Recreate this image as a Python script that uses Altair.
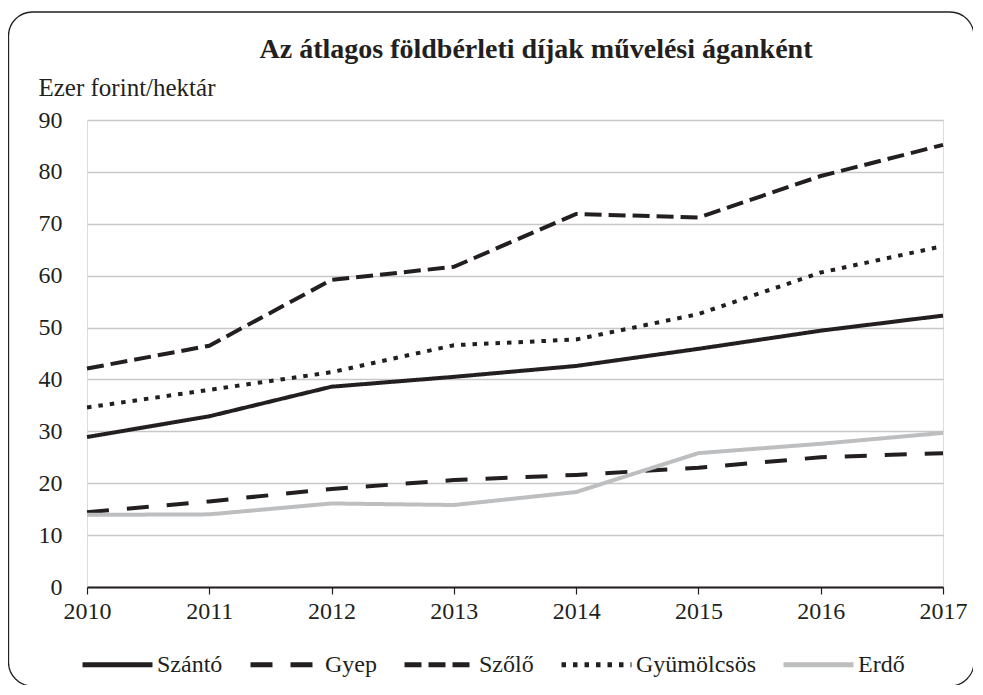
import altair as alt
import pandas as pd

years = [2010, 2011, 2012, 2013, 2014, 2015, 2016, 2017]
szanto = [28.9, 32.9, 38.6, 40.5, 42.6, 45.9, 49.4, 52.3]
gyep = [14.4, 16.5, 18.9, 20.6, 21.6, 23.0, 25.0, 25.8]
szolo = [42.1, 46.5, 59.2, 61.7, 71.9, 71.2, 79.2, 85.2]
gyumolcsos = [34.6, 38.0, 41.4, 46.6, 47.7, 52.6, 60.6, 65.7]
erdo = [13.9, 14.0, 16.1, 15.8, 18.3, 25.8, 27.6, 29.7]

series_names = ["Szántó", "Gyep", "Szőlő", "Gyümölcsös", "Erdő"]
series_values = [szanto, gyep, szolo, gyumolcsos, erdo]
series_colors = ["#231f20", "#231f20", "#231f20", "#231f20", "#bcbec0"]
series_dashes = [[1, 0], [22, 18], [17, 7], [4.5, 7], [1, 0]]
y_ticks = [0, 10, 20, 30, 40, 50, 60, 70, 80, 90]

title_text = "Az átlagos földbérleti díjak művelési áganként"
y_title = "Ezer forint/hektár"

rows = []
for name, vals in zip(series_names, series_values):
    for yr, v in zip(years, vals):
        rows.append({"ev": yr, "ertek": v, "sorozat": name})
df = pd.DataFrame(rows)

FONT = "'Liberation Serif', 'DejaVu Serif', serif"
INK = "#231f20"
W, H = 856, 467

legend = alt.Legend(
    title=None, orient="none", direction="horizontal", columns=5,
    legendX=-7, legendY=507, symbolType="stroke", symbolSize=4900,
    symbolStrokeWidth=5, labelFont=FONT, labelFontSize=24, labelColor=INK,
    labelOffset=2, columnPadding=17, padding=0, labelLimit=300,
)

lines = alt.Chart(df).mark_line(strokeWidth=4).encode(
    x=alt.X(
        "ev:Q",
        scale=alt.Scale(domain=[years[0], years[-1]], nice=False, zero=False),
        axis=alt.Axis(
            values=years, format="d", grid=False, domainColor=INK, domainWidth=2,
            tickColor=INK, tickSize=7, tickWidth=1.2, labelPadding=5,
            labelFont=FONT, labelFontSize=24, labelColor=INK, title=None,
            labelFlush=False,
        ),
    ),
    y=alt.Y(
        "ertek:Q",
        scale=alt.Scale(domain=[0, 90], nice=False),
        axis=alt.Axis(
            values=y_ticks, grid=True, gridColor="#c8c8c8", gridWidth=1.5,
            domain=False, ticks=False, labelPadding=25, labelFont=FONT,
            labelFontSize=24, labelColor=INK, title=y_title, titleAngle=0,
            titleX=-49, titleY=-25, titleAlign="left", titleBaseline="alphabetic",
            titleFont=FONT, titleFontSize=25, titleFontWeight="normal",
            titleColor=INK,
        ),
    ),
    color=alt.Color("sorozat:N", scale=alt.Scale(domain=series_names, range=series_colors), legend=legend),
    strokeDash=alt.StrokeDash("sorozat:N", scale=alt.Scale(domain=series_names, range=series_dashes), legend=legend),
)

frame = alt.Chart(pd.DataFrame({"k": [0]})).mark_rect(
    fillOpacity=0, stroke=INK, strokeWidth=1.3, cornerRadius=24
).encode(
    x=alt.value(-78.5), x2=alt.value(887), y=alt.value(-108), y2=alt.value(566)
)

chart = alt.layer(frame, lines).properties(
    width=W, height=H,
    title=alt.TitleParams(
        title_text, font=FONT, fontSize=28, fontWeight="bold", color=INK,
        anchor="middle", dx=21, offset=-75, baseline="alphabetic",
    ),
    autosize=alt.AutoSizeParams(type="none"),
    padding={"left": 79, "top": 112, "right": 30, "bottom": 98},
).configure_view(stroke="#4d4d4d", strokeWidth=1.2).configure(background="white")

chart.save("out.html", embed_options={"renderer": "svg", "actions": False})
